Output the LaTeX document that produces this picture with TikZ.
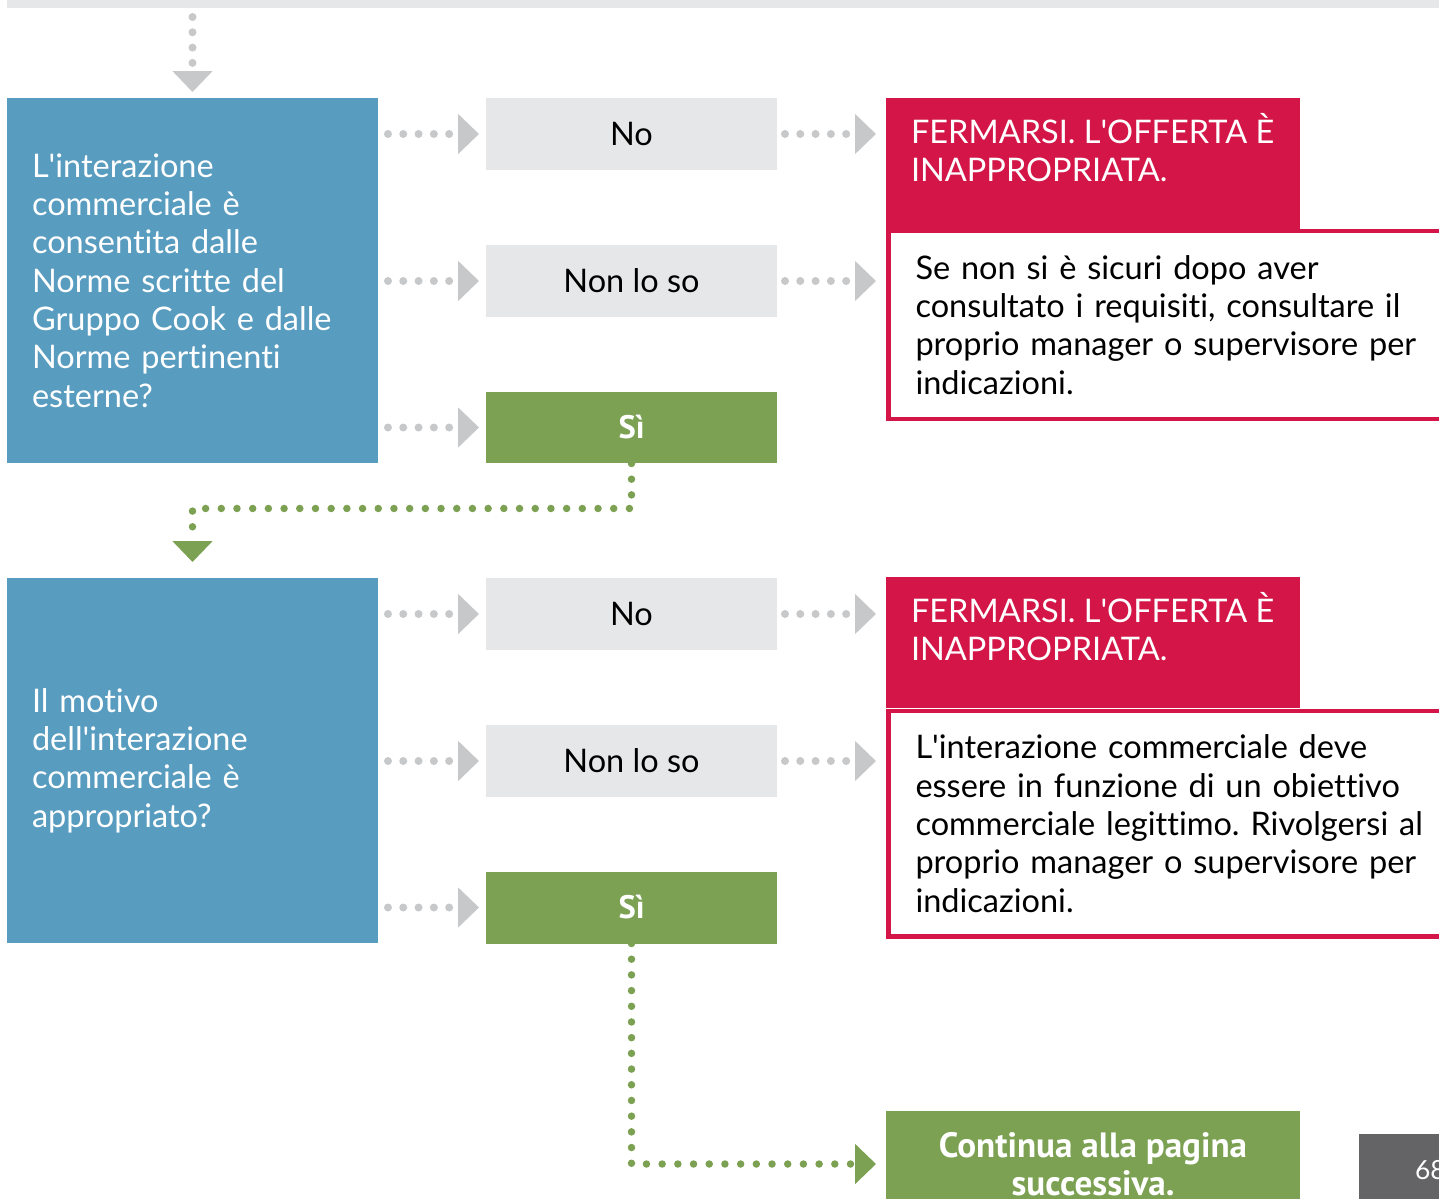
\documentclass[tikz,border=0pt]{standalone}
\usepackage{fontspec}
\setmainfont{Lato}[Ligatures=NoCommon]
\newfontfamily\ptsans{PT Sans}
\usetikzlibrary{arrows.meta}
\frenchspacing

\definecolor{askblue}{HTML}{589CC0}
\definecolor{boxgray}{HTML}{E6E7E8}
\definecolor{dotgray}{HTML}{C7C8CA}
\definecolor{okgreen}{HTML}{7CA153}
\definecolor{stopred}{HTML}{D31547}
\definecolor{pagegray}{HTML}{646466}

\newcommand{\txtsize}{\fontsize{18.5pt}{21.8pt}\selectfont}
\newcommand{\stoptext}[1]{\parbox[c][2.02cm][t]{7.28cm}{\raggedright #1}}
\newcommand{\aps}{\textquotesingle}

\begin{document}
\begin{tikzpicture}[x=0.02cm,y=-0.02cm,
    every node/.style={inner sep=0pt, outer sep=0pt, font=\txtsize},
    ask/.style={fill=askblue, text=white, minimum width=7.42cm, minimum height=7.3cm,
        text width=6.42cm, align=left, inner xsep=0.5cm},
    answer/.style={fill=boxgray, minimum width=5.82cm, minimum height=1.44cm},
    yes/.style={fill=okgreen, text=white, minimum width=5.82cm, minimum height=1.44cm,
        font=\txtsize\ptsans\bfseries},
    stop/.style={fill=stopred, text=white, anchor=north west, inner xsep=0.5cm, inner ysep=0.3cm},
    note/.style={draw=stopred, line width=2.5pt, fill=white, anchor=north west,
        minimum width=11.82cm, text width=10.74cm, align=left, inner xsep=0.54cm},
    dotline/.style={line width=0.16cm, line cap=round, dash pattern=on 0pt off 0.306cm,
        -{Triangle[length=0.42cm,width=0.78cm]}},
    graydots/.style={dotline, draw=dotgray, shorten <=0.2cm, shorten >=0.14cm},
    greendots/.style={dotline, draw=okgreen, line width=0.15cm, dash pattern=on 0pt off 0.314cm}]

    \useasboundingbox (0,0) rectangle (1439,1199);
    \clip (0,0) rectangle (1439,1199);

    \node[fill=boxgray, minimum width=28.86cm, minimum height=0.16cm, anchor=south west] (bar) at (7,8) {};

    % first question
    \node[ask] (askA) at (192.5,280.5) {L\aps interazione\\commerciale è\\consentita dalle\\Norme scritte del\\Gruppo Cook e dalle\\Norme pertinenti\\esterne?};
    \node[answer] (noA) at (631.5,134) {No};
    \node[answer] (dkA) at (631.5,281) {Non lo so};
    \node[yes] (siA) at (631.5,427.5) {Sì};
    \node[note, minimum height=3.76cm] (noteA) at (888.5,231) {Se non si è sicuri dopo aver\\consultato i requisiti, consultare il\\proprio manager o supervisore per\\indicazioni.};
    \node[stop] (stopA) at (886,98) {\stoptext{FERMARSI. L\aps OFFERTA È\\INAPPROPRIATA.}};

    % second question
    \node[ask] (askB) at (192.5,760.5) {Il motivo\\dell\aps interazione\\commerciale è\\appropriato?};
    \node[answer] (noB) at (631.5,614) {No};
    \node[answer] (dkB) at (631.5,761) {Non lo so};
    \node[yes] (siB) at (631.5,907.5) {Sì};
    \node[note, minimum height=4.51cm] (noteB) at (888.5,711) {L\aps interazione commerciale deve\\essere in funzione di un obiettivo\\commerciale legittimo. Rivolgersi al\\proprio manager o supervisore per\\indicazioni.};
    \node[stop] (stopB) at (886,577) {\stoptext{FERMARSI. L\aps OFFERTA È\\INAPPROPRIATA.}};

    \node[fill=okgreen, text=white, minimum width=8.28cm, minimum height=2.12cm, align=center,
        font=\fontsize{20pt}{21.8pt}\selectfont\ptsans\bfseries] (next) at (1093,1164) {Continua alla pagina\\successiva.};
    \node[fill=pagegray, text=white, anchor=north west, minimum height=1.44cm, inner xsep=1.12cm,
        font=\fontsize{15pt}{18pt}\selectfont] (page) at (1359,1134) {68};

    \draw[graydots, shorten <=0.18cm, shorten >=0.12cm] (bar.south -| askA.north) -- (askA.north);
    \foreach \q in {A,B}{
        \foreach \a in {no,dk,si}
            \draw[graydots] (ask\q.east |- \a\q.west) -- (\a\q.west);
        \foreach \a in {no,dk}
            \draw[graydots, shorten <=0.16cm, shorten >=0.2cm] (\a\q.east) -- (\a\q.east -| stop\q.west);
    }
    \draw[greendots, shorten >=0.32cm] (siA.south) -- ++(0,45) -| (askB.north);
    \draw[greendots, shorten >=0.2cm] (siB.south) |- (next.west);
\end{tikzpicture}
\end{document}
